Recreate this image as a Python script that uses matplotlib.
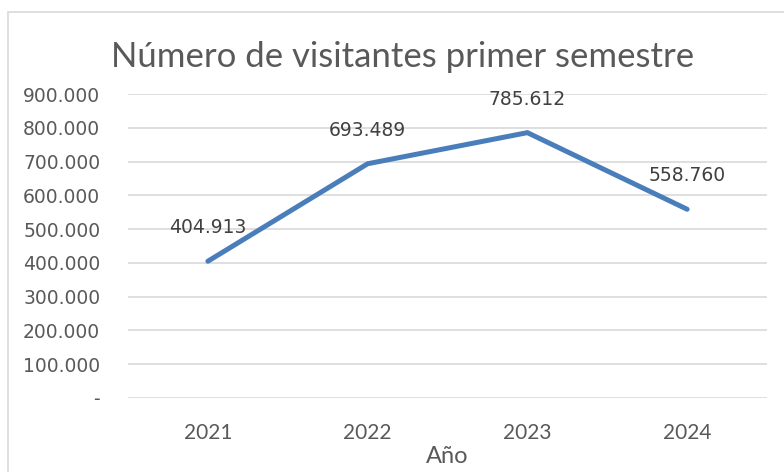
import matplotlib

matplotlib.use("Agg")
import matplotlib.pyplot as plt
from matplotlib.patches import Rectangle
from matplotlib.ticker import FuncFormatter

years = ["2021", "2022", "2023", "2024"]
visitors = [404913, 693489, 785612, 558760]
y_ticks = list(range(0, 900001, 100000))

TEXT = "#595959"
GRID = "#d9d9d9"
BLUE = "#4A7EBB"
NARROW = ["Lato", "DejaVu Sans"]


def fmt_miles(v, pos=None):
    if v == 0:
        return "-"
    return f"{int(round(v)):,}".replace(",", ".")


fig = plt.figure(figsize=(7.84, 4.72), dpi=100)
ax = fig.add_axes([128 / 784, 1 - 398 / 472, (767 - 128) / 784, (398 - 94) / 472])

# marco del gráfico (estilo Excel)
fig.patches.append(Rectangle((8 / 784, -0.1), 1.2, 1 - 12 / 472 + 0.1,
                             transform=fig.transFigure, fill=False,
                             edgecolor=GRID, linewidth=1.2))

x = range(len(years))
ax.plot(x, visitors, color=BLUE, linewidth=3.6, solid_capstyle="round",
        solid_joinstyle="miter")
for xi, v in zip(x, visitors):
    ax.annotate(fmt_miles(v), (xi, v), xytext=(0, 24), textcoords="offset points",
                ha="center", va="center", fontsize=13.5, color="#404040")

ax.set_xlim(-0.5, len(years) - 0.5)
ax.set_ylim(0, 900000)
ax.set_yticks(y_ticks)
ax.yaxis.set_major_formatter(FuncFormatter(fmt_miles))
ax.set_xticks(list(x))
ax.set_xticklabels(years, family=NARROW, fontsize=15)
ax.tick_params(axis="y", length=0, pad=20, labelsize=13.5, labelcolor=TEXT)
ax.tick_params(axis="x", length=0, pad=18, labelcolor=TEXT)
ax.grid(axis="y", color=GRID, linewidth=1.2)
ax.set_axisbelow(True)
for s in ax.spines.values():
    s.set_visible(False)

ax.set_xlabel("Año", family=NARROW, fontsize=17, color=TEXT, labelpad=2)
fig.text(403 / 784, 1 - 57 / 472, "Número de visitantes primer semestre",
         family=NARROW, fontsize=25, color=TEXT, ha="center", va="center")

fig.savefig("out.png", dpi=100)
